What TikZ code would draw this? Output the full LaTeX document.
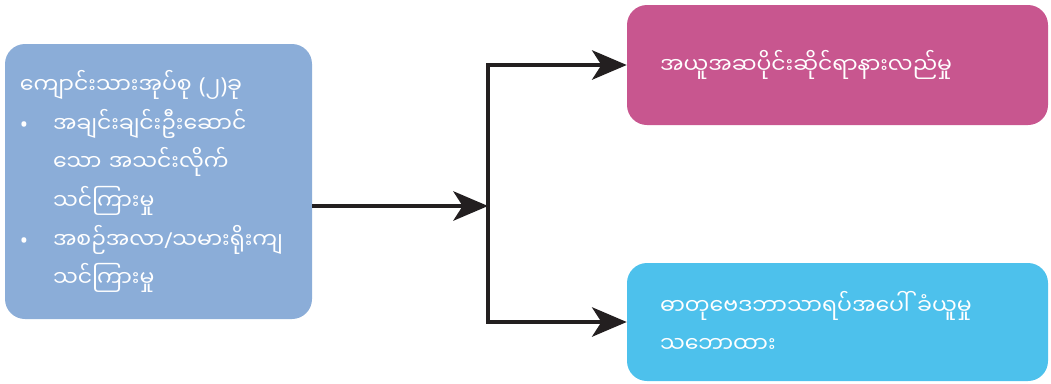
\documentclass[tikz,border=0pt]{standalone}
\usepackage{fontspec}
\usetikzlibrary{arrows.meta,positioning}
\newfontfamily\mmfont[Script=Myanmar]{Noto Sans Myanmar UI}
\newfontfamily\latfont{Noto Sans}
\definecolor{clrL}{RGB}{139,173,216}
\definecolor{clrP}{RGB}{200,86,143}
\definecolor{clrC}{RGB}{77,193,236}
\definecolor{clrA}{RGB}{35,31,32}

\begin{document}
\begin{tikzpicture}[x=0.75pt,y=-0.75pt,
   card/.style={rectangle,rounded corners=15pt,draw=none,text=white,align=left,
     inner ysep=0pt,font=\mmfont\fontsize{16.5}{29}\selectfont},
   ar/.style={-{Stealth[length=26pt,width=22pt,inset=7pt]},line width=3pt,draw=clrA}]

  \useasboundingbox (0,0) rectangle (1051,383);

  \node[card,fill=clrL,minimum width=230.25pt,minimum height=206.25pt,
        text width=207.75pt,inner xsep=11.25pt] (grp) at (158.5,181.5)
    {ကျောင်းသားအုပ်စု {\latfont(}၂{\latfont)}ခု\\
     \makebox[24.75pt][l]{\latfont\textbullet}အချင်းချင်းဦးဆောင်\\
     \hspace*{24.75pt}သော အသင်းလိုက်\\
     \hspace*{24.75pt}သင်ကြားမှု\\
     \makebox[24.75pt][l]{\latfont\textbullet}အစဉ်အလာ{\latfont/}သမားရိုးကျ\\
     \hspace*{24.75pt}သင်ကြားမှု};
  \node[card,fill=clrP,minimum width=315.75pt,minimum height=90pt,
        text width=266.25pt,inner xsep=24.75pt] (idea) at (837.5,65)
    {အယူအဆပိုင်းဆိုင်ရာနားလည်မှု};
  \node[card,fill=clrC,minimum width=315.75pt,minimum height=88.5pt,
        text width=266.25pt,inner xsep=24.75pt] (view) at (837.5,322)
    {ဓာတုဗေဒဘာသာရပ်အပေါ် ခံယူမှု\\သဘောထား};

  \coordinate (split) at (488,206);

  \draw[ar] (grp.east |- split) -- (split);
  \draw[ar] (split) |- (idea.west);
  \draw[ar] (split) |- (view.west);
\end{tikzpicture}
\end{document}
